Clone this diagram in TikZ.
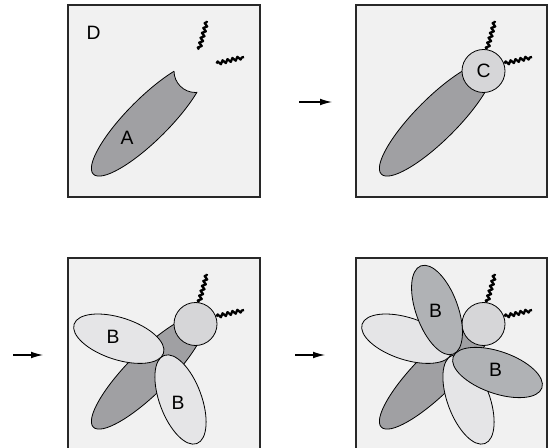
\documentclass[tikz,border=0pt]{standalone}
\usepackage{fontspec}
\setmainfont{Liberation Sans}
\usepackage{tikz}
\usetikzlibrary{arrows.meta,decorations.pathmorphing}
\definecolor{panelgray}{RGB}{241,241,241}
\definecolor{framegray}{RGB}{40,40,40}
\definecolor{bodygray}{RGB}{160,160,163}
\definecolor{headgray}{RGB}{214,214,216}
\definecolor{lightlobe}{RGB}{229,229,231}
\definecolor{darklobe}{RGB}{176,178,181}

\begin{document}
\begin{tikzpicture}[x=0.75pt,y=0.75pt,yscale=-1,xscale=1,
  frame/.style={draw=framegray,fill=panelgray,line width=1pt},
  body/.style={draw=black,fill=bodygray,line width=0.6pt},
  headball/.style={draw=black,fill=headgray,line width=0.6pt},
  lobe/.style={draw=black,fill=lightlobe,line width=0.6pt},
  darkb/.style={draw=black,fill=darklobe,line width=0.6pt},
  wiggle/.style={decorate,decoration={snake,amplitude=1.3pt,segment length=3.8pt},line width=1.7pt,line join=round},
  letter/.style={font=\fontsize{14.5}{17}\selectfont,inner sep=0pt},
  flow/.style={-{Latex[length=9pt,width=5pt]},line width=0.8pt}]
\useasboundingbox (0,0) rectangle (548,448);

%%% Panel top left
% Shape: Rectangle
\draw [frame] (68,5) rectangle (260,197);
% Shape: Ellipse
\draw [body,rotate around={-45:(148.5,119)}] (148.5,119) ellipse [x radius=78,y radius=21];
% Shape: Circle (bite)
\fill [panelgray] (195.5,71) circle [radius=21.5];
\begin{scope}
\clip [rotate around={-45:(148.5,119)}] (148.5,119) ellipse [x radius=78,y radius=21];
\draw [line width=0.6pt] (195.5,71) circle [radius=21.5];
\end{scope}
% Curve Lines
\draw [wiggle] (199,49.5) -- (207,21);
\draw [wiggle] (216.5,63.5) -- (244,57);
% Text Node
\node [letter] (d) at (93.5,32.5) {D};
% Text Node
\node [letter] (a) at (127,137.8) {A};

%%% Panel top right
% Shape: Rectangle
\draw [frame] (356,5) rectangle (547,197);
% Shape: Ellipse
\draw [body,rotate around={-45:(436.5,119)}] (436.5,119) ellipse [x radius=78,y radius=21];
% Curve Lines
\draw [wiggle] (487,49.5) -- (495,21);
\draw [wiggle] (504.5,63.5) -- (532,57);
% Shape: Circle
\draw [headball] (483.5,71) circle [radius=21.5];
% Text Node
\node [letter] (c) at (483.5,71) {C};
% Connection
\coordinate (go1) at (299,102);
\coordinate (to1) at (332,102);
\draw [flow] (go1) -- (to1);

%%% Panel bottom left
% Shape: Rectangle
\draw [frame] (68,258) rectangle (260,452);
% Shape: Ellipse
\draw [body,rotate around={-45:(148.5,372)}] (148.5,372) ellipse [x radius=78,y radius=21];
% Curve Lines
\draw [wiggle] (199,302.5) -- (207,274);
\draw [wiggle] (216.5,316.5) -- (244,310);
% Shape: Circle
\draw [headball] (195.5,324) circle [radius=21.5];
% Shape: Ellipse
\draw [lobe,rotate around={18:(118.8,338.7)}] (118.8,338.7) ellipse [x radius=47,y radius=21];
% Shape: Ellipse
\draw [lobe,rotate around={69.6:(180.5,399.5)}] (180.5,399.5) ellipse [x radius=47,y radius=21];
% Text Node
\node [letter] (b1) at (113,337.3) {B};
% Text Node
\node [letter] (b2) at (178,403.3) {B};
% Connection
\coordinate (go2) at (13,355);
\coordinate (to2) at (43,355);
\draw [flow] (go2) -- (to2);

%%% Panel bottom right
% Shape: Rectangle
\draw [frame] (356,258) rectangle (547,452);
% Shape: Ellipse
\draw [body,rotate around={-45:(436.5,372)}] (436.5,372) ellipse [x radius=78,y radius=21];
% Curve Lines
\draw [wiggle] (487,302.5) -- (495,274);
\draw [wiggle] (504.5,316.5) -- (532,310);
% Shape: Circle
\draw [headball] (483.5,324) circle [radius=21.5];
% Shape: Ellipse
\draw [lobe,rotate around={18:(406.8,338.7)}] (406.8,338.7) ellipse [x radius=47,y radius=21];
% Shape: Ellipse
\draw [lobe,rotate around={69.6:(468.5,399.5)}] (468.5,399.5) ellipse [x radius=47,y radius=21];
% Shape: Ellipse
\draw [darkb,rotate around={70:(437,310)}] (437,310) ellipse [x radius=47,y radius=21];
% Shape: Ellipse
\draw [darkb,rotate around={19.2:(497.5,372.5)}] (497.5,372.5) ellipse [x radius=47,y radius=21];
% Text Node
\node [letter] (b3) at (435.5,311) {B};
% Text Node
\node [letter] (b4) at (495.5,370.3) {B};
% Connection
\coordinate (go3) at (295,355);
\coordinate (to3) at (325,355);
\draw [flow] (go3) -- (to3);

\end{tikzpicture}
\end{document}
